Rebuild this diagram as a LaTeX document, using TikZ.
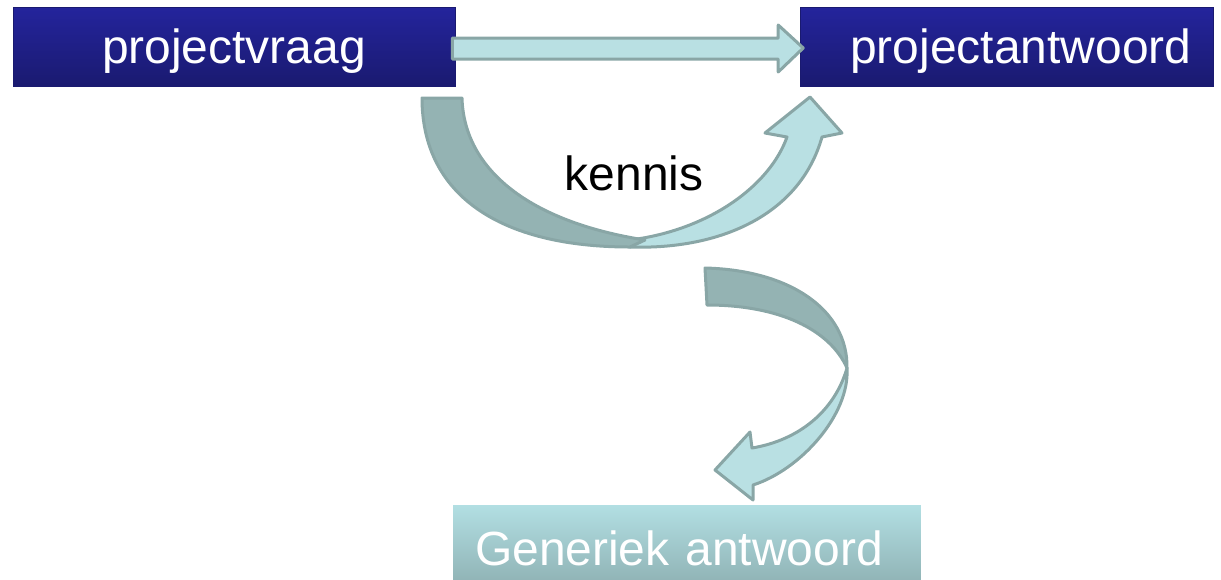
\documentclass[tikz,border=0pt]{standalone}
\usepackage{fontspec}
\setmainfont{Liberation Sans}
\usepackage{tikz}
\usetikzlibrary{positioning, calc}

\definecolor{boxBlueTop}{RGB}{36,36,156}
\definecolor{boxBlueBottom}{RGB}{26,26,112}
\definecolor{genericTop}{RGB}{178,223,227}
\definecolor{genericBottom}{RGB}{140,174,176}
\definecolor{ribbonLight}{RGB}{185,224,227}
\definecolor{ribbonDark}{RGB}{148,179,179}
\definecolor{ribbonEdge}{RGB}{137,166,166}

\begin{document}
\begin{tikzpicture}[
      x=0.02cm, y=-0.02cm,
      projectbox/.style={
        rectangle,
        minimum height=1.58cm,
        inner ysep=0pt,
        text centered,
        top color=boxBlueTop,
        bottom color=boxBlueBottom,
        draw=boxBlueBottom,
        text=white,
        text height=0.86cm,
        text depth=0.2cm,
        font=\fontsize{27.3}{32}\selectfont
      },
      genericbox/.style={
        rectangle,
        minimum width=9.36cm,
        minimum height=1.74cm,
        inner ysep=0pt,
        inner xsep=0.44cm,
        text width=8.48cm,
        align=left,
        top color=genericTop,
        bottom color=genericBottom,
        text=white,
        text height=0.86cm,
        text depth=0.2cm,
        font=\fontsize{27.3}{32}\selectfont
      },
      ribbonlight/.style={
        fill=ribbonLight,
        draw=ribbonEdge,
        line width=0.06cm,
        line join=round
      },
      ribbondark/.style={
        fill=ribbonDark,
        draw=ribbonEdge,
        line width=0.06cm,
        line join=round
      },
      node distance=6.9cm
    ]
    \useasboundingbox (0,0) rectangle (1221,579);
    \clip (0,0) rectangle (1221,579);

    % Boxes
    \node (projectvraag) [projectbox, minimum width=8.84cm] at (234,46.5) {projectvraag};
    \node (projectantwoord) [projectbox, minimum width=8.26cm, inner xsep=0.44cm, text width=7.38cm, align=right, right=of projectvraag] {projectantwoord};
    \node (generiekAntwoord) [genericbox] at (687,548.5) {Generiek antwoord};

    % Straight arrow
    \draw [ribbonlight] ($(projectvraag.east)+(-3,-8.5)$) -- ($(projectantwoord.west)+(-22,-8.5)$)
      -- ($(projectantwoord.west)+(-22,-21.5)$) -- ($(projectantwoord.west)+(3,1.5)$)
      -- ($(projectantwoord.west)+(-22,25.5)$) -- ($(projectantwoord.west)+(-22,12.5)$)
      -- ($(projectvraag.east)+(-3,12.5)$) -- cycle;

    % Curved arrow under kennis
    \draw [ribbonlight] (630,247) .. controls (720,250) and (800,215) .. (822,137)
      -- (842,133) -- (810,97) -- (765,133) -- (787,137)
      .. controls (770,185) and (710,230) .. (630,240) -- cycle;
    \draw [ribbondark] (422,98) .. controls (422,195) and (500,247) .. (630,247)
      -- (645,240) .. controls (530,222) and (464,170) .. (462,98) -- cycle;

    % Curved arrow down to generic answer
    \draw [ribbonlight] (847,368) .. controls (850,415) and (800,470) .. (753,485)
      -- (753,500) -- (715,470) -- (750,432) -- (752,448)
      .. controls (800,440) and (835,410) .. (847,368) -- cycle;
    \draw [ribbondark] (705,268) .. controls (790,270) and (848,310) .. (847,368)
      .. controls (830,330) and (780,305) .. (707,305) -- cycle;

    % Label
    \node (kennis) [anchor=base, font=\fontsize{27.3}{32}\selectfont] at (634,190) {kennis};

\end{tikzpicture}
\end{document}
